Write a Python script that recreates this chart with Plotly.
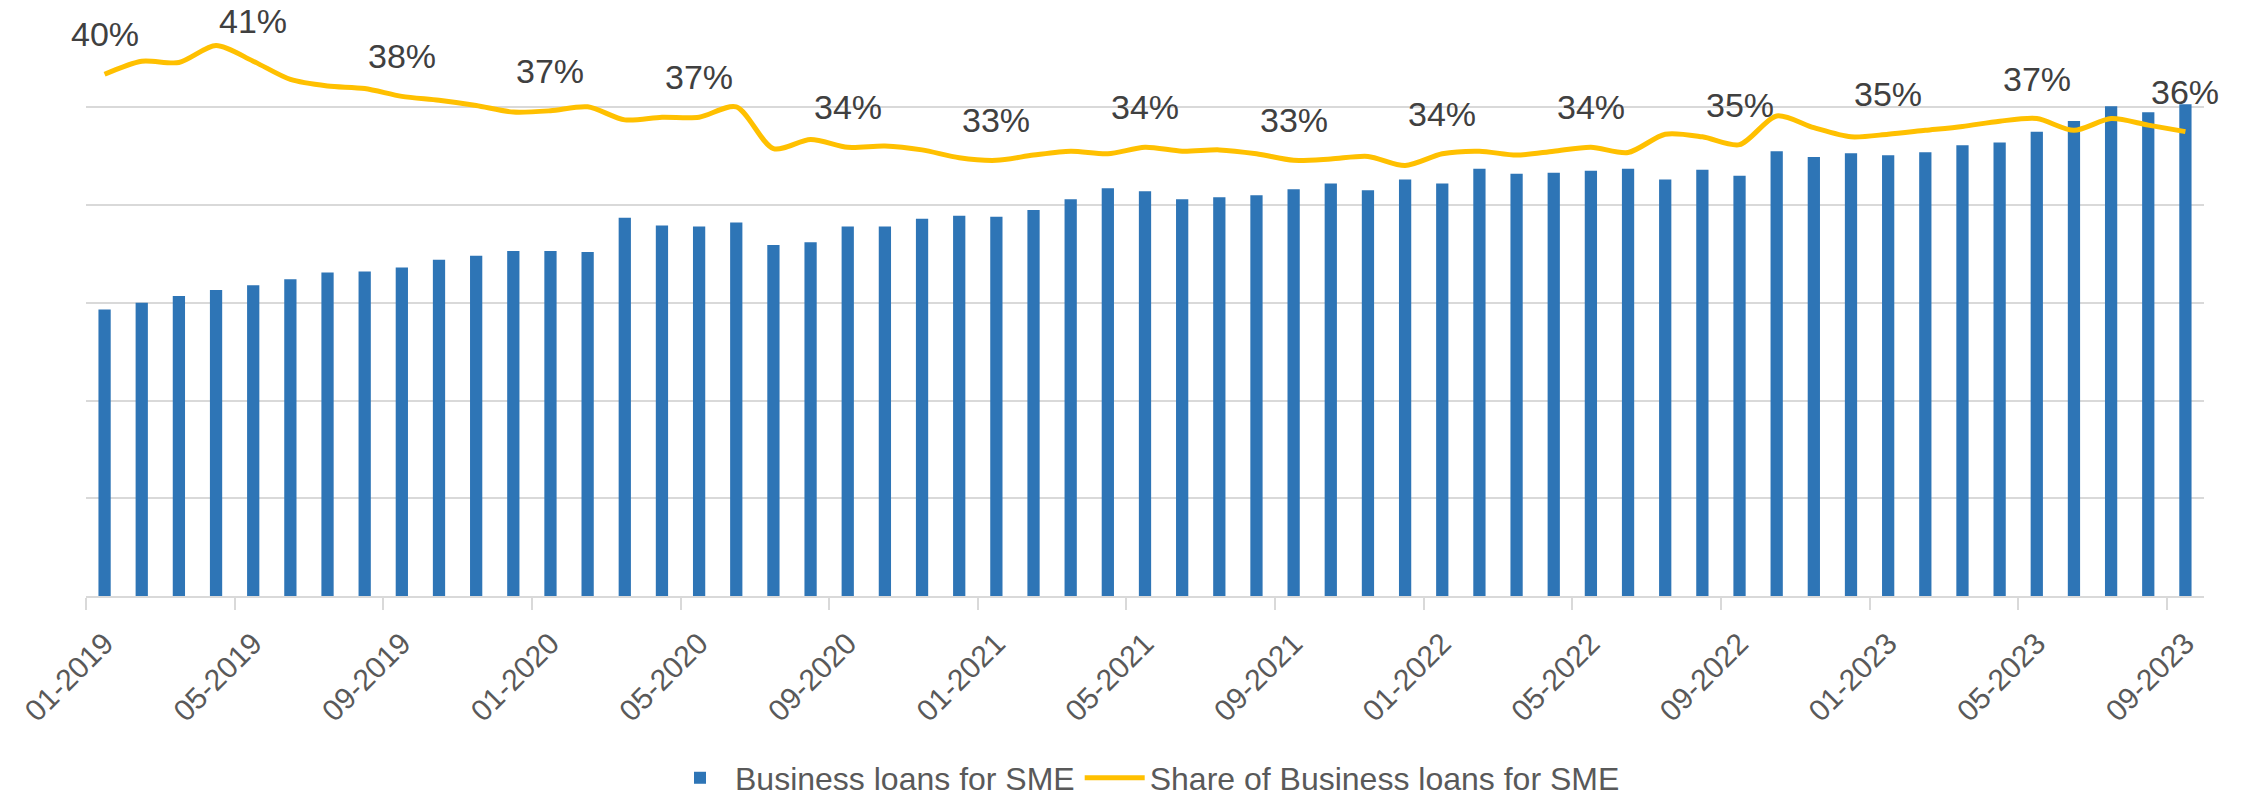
import plotly.graph_objects as go

months = [f"{m:02d}-{y}" for y in range(2019, 2024) for m in range(1, 13)][:57]

loans = [29.3, 30.0, 30.7, 31.3, 31.8, 32.4, 33.1, 33.2, 33.6, 34.4,
         34.8, 35.3, 35.3, 35.2, 38.7, 37.9, 37.8, 38.2, 35.9, 36.2,
         37.8, 37.8, 38.6, 38.9, 38.8, 39.5, 40.6, 41.7, 41.4, 40.6,
         40.8, 41.0, 41.6, 42.2, 41.5, 42.6, 42.2, 43.7, 43.2, 43.3,
         43.5, 43.7, 42.6, 43.6, 43.0, 45.5, 44.9, 45.3, 45.1, 45.4,
         46.1, 46.4, 47.5, 48.6, 50.1, 49.5, 50.3]

share = [40.0, 41.0, 40.9, 42.2, 41.0, 39.6, 39.1, 38.9, 38.3, 38.0,
         37.6, 37.1, 37.2, 37.5, 36.5, 36.7, 36.7, 37.5, 34.3, 35.0,
         34.4, 34.5, 34.2, 33.6, 33.4, 33.8, 34.1, 33.9, 34.4, 34.1,
         34.2, 33.9, 33.4, 33.5, 33.7, 33.0, 33.9, 34.1, 33.8, 34.1,
         34.4, 34.0, 35.4, 35.2, 34.6, 36.8, 35.9, 35.2, 35.4, 35.7,
         36.0, 36.4, 36.6, 35.7, 36.6, 36.1, 35.6]

label_step = 4
pos = list(range(len(months)))

FONT = "Liberation Sans, Arial, sans-serif"
BLUE = "#2E75B6"
GOLD = "#FFC000"
GRID = "#D9D9D9"

fig = go.Figure()
fig.add_trace(go.Bar(x=pos, y=loans, name="Business loans for SME",
                     marker=dict(color=BLUE, line=dict(width=0)), yaxis="y"))
fig.add_trace(go.Scatter(x=pos, y=share, name="Share of Business loans for SME",
                         mode="lines", line=dict(color=GOLD, width=5, shape="spline", smoothing=0.8),
                         yaxis="y2"))

for i in range(0, len(months), label_step):
    fig.add_annotation(x=pos[i], y=share[i], xref="x", yref="y2",
                       text=f"{round(share[i]):.0f}%", showarrow=False,
                       yshift=40, yanchor="middle",
                       font=dict(family=FONT, size=34, color="#404040"))

fig.update_layout(
    width=2244, height=804,
    margin=dict(l=86, r=40, t=9, b=208, autoexpand=False),
    paper_bgcolor="white", plot_bgcolor="white",
    bargap=0.67,
    font=dict(family=FONT, size=31, color="#595959"),
    showlegend=True,
    legend=dict(orientation="h", x=0.5, xanchor="center", y=-0.31, yanchor="middle",
                font=dict(family=FONT, size=32, color="#595959"),
                itemwidth=60, traceorder="normal"),
    xaxis=dict(range=[-0.5, len(months) - 0.5], automargin=False,
               tickmode="array", tickvals=pos[::label_step], ticktext=months[::label_step],
               tickangle=-45, ticks="", showgrid=False,
               showline=True, linecolor=GRID, linewidth=1.5,
               ticklabelstandoff=16,
               tickfont=dict(family=FONT, size=30, color="#595959"),
               minor=dict(tickmode="linear", tick0=-0.5, dtick=label_step,
                          ticks="outside", ticklen=12, tickcolor=GRID, tickwidth=1.5,
                          showgrid=False)),
    yaxis=dict(range=[0, 60.05], dtick=10, showgrid=True, gridcolor=GRID, gridwidth=1.5,
               showticklabels=False, zeroline=False, ticks="", automargin=False),
    yaxis2=dict(range=[0, 45], overlaying="y", side="right", showgrid=False,
                showticklabels=False, zeroline=False, ticks="", automargin=False),
)

fig.write_html("out.html", config={"displayModeBar": False},
               post_script="document.body.style.margin='0px';document.body.style.overflow='hidden';")
